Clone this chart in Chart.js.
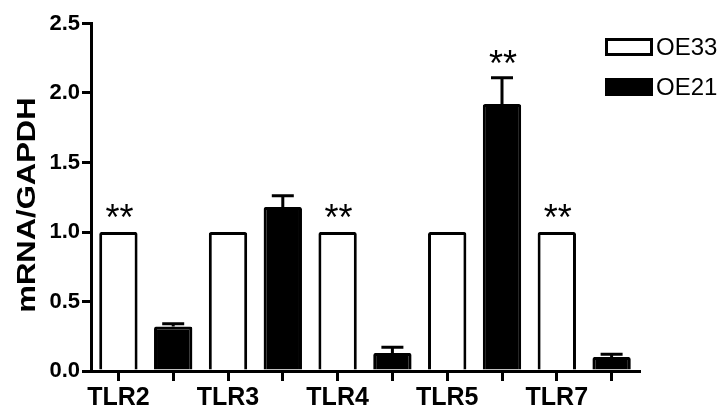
<!DOCTYPE html>
<html>
<head>
<meta charset="utf-8">
<script src="https://cdn.jsdelivr.net/npm/chart.js@4/dist/chart.umd.min.js"></script>
<style>
  html, body { margin: 0; padding: 0; background: #fff; }
  #wrap { width: 727px; height: 409px; }
</style>
</head>
<body>
<div id="wrap"><canvas id="c" width="727" height="409"></canvas></div>
<script>
// Receptor genes and the two cell lines
const genes = ['TLR2', 'TLR3', 'TLR4', 'TLR5', 'TLR7'];
const seriesNames = ['OE33', 'OE21'];

// Relative expression (mRNA / GAPDH), OE33 normalised to 1
const oe33Mean = [1, 1, 1, 1, 1];
const oe33Err  = [0, 0, 0, 0, 0];
const oe21Mean = [0.32, 1.18, 0.13, 1.92, 0.10];
const oe21Err  = [0.02, 0.08, 0.04, 0.19, 0.02];

// Significance marks drawn above each bar
const oe33Marks = ['**', '', '**', '', '**'];
const oe21Marks = ['', '', '', '**', ''];

const yTicks = [0, 0.5, 1.0, 1.5, 2.0, 2.5];
const yTitle = 'mRNA/GAPDH';

const FONT = "'Liberation Sans', Arial, Helvetica, sans-serif";

// One slot per bar: the gene name sits under the OE33 bar, the OE21 slot is unlabeled
const slotLabels = genes.flatMap(g => [g, '']);
const toSlots = (arr, first) => arr.flatMap(v => first ? [v, null] : [null, v]);

const barStyle = {
  borderColor: '#000000',
  borderWidth: 3,
  borderRadius: 2,
  borderSkipped: 'start',
  grouped: false,
  barPercentage: 0.7,
  categoryPercentage: 1
};

const data = {
  labels: slotLabels,
  datasets: [
    Object.assign({
      label: seriesNames[0],
      data: toSlots(oe33Mean, true),
      errors: toSlots(oe33Err, true),
      marks: toSlots(oe33Marks, true),
      backgroundColor: '#ffffff'
    }, barStyle),
    Object.assign({
      label: seriesNames[1],
      data: toSlots(oe21Mean, false),
      errors: toSlots(oe21Err, false),
      marks: toSlots(oe21Marks, false),
      backgroundColor: '#000000'
    }, barStyle)
  ]
};

// Upper error whiskers with a short cap
const errorBars = {
  id: 'errorBars',
  afterDatasetsDraw(chart) {
    const { ctx, scales: { y } } = chart;
    chart.data.datasets.forEach((ds, di) => {
      const meta = chart.getDatasetMeta(di);
      meta.data.forEach((bar, i) => {
        const v = ds.data[i], e = ds.errors[i];
        if (v == null || !e) return;
        const top = y.getPixelForValue(v + e);
        ctx.save();
        ctx.strokeStyle = '#000';
        ctx.lineWidth = 3;
        ctx.beginPath();
        ctx.moveTo(bar.x, bar.y);
        ctx.lineTo(bar.x, top);
        ctx.moveTo(bar.x - 11, top);
        ctx.lineTo(bar.x + 11, top);
        ctx.stroke();
        ctx.restore();
      });
    });
  }
};

// "**" significance marks above bars
const sigMarks = {
  id: 'sigMarks',
  afterDatasetsDraw(chart) {
    const { ctx, scales: { y } } = chart;
    ctx.save();
    ctx.fillStyle = '#000';
    ctx.font = '36px ' + FONT;
    ctx.textAlign = 'center';
    ctx.textBaseline = 'alphabetic';
    chart.data.datasets.forEach((ds, di) => {
      const meta = chart.getDatasetMeta(di);
      meta.data.forEach((bar, i) => {
        const m = ds.marks[i];
        if (!m) return;
        const top = y.getPixelForValue(ds.data[i] + (ds.errors[i] || 0));
        const tm = ctx.measureText(m);
        const center = top - 21;
        const base = center + (tm.actualBoundingBoxAscent - tm.actualBoundingBoxDescent) / 2;
        ctx.fillText(m, bar.x + 1, base);
      });
    });
    ctx.restore();
  }
};

// Vertical axis title, set in a wide bold face
const yTitlePlugin = {
  id: 'yTitlePlugin',
  afterDraw(chart) {
    const { ctx } = chart;
    ctx.save();
    ctx.translate(28, 205);
    ctx.rotate(-Math.PI / 2);
    ctx.scale(1.24, 1);
    ctx.fillStyle = '#000';
    ctx.font = 'bold 25px ' + FONT;
    ctx.textAlign = 'center';
    ctx.textBaseline = 'middle';
    ctx.fillText(yTitle, 0, 0);
    ctx.restore();
  }
};

// Legend in the upper right corner
const boxLegend = {
  id: 'boxLegend',
  afterDraw(chart) {
    const { ctx, chartArea } = chart;
    const x0 = chartArea.right - 34;
    const rows = [38, 78];
    ctx.save();
    chart.data.datasets.forEach((ds, di) => {
      const yTop = rows[di];
      const w = 48, h = 18;
      ctx.fillStyle = ds.backgroundColor;
      ctx.fillRect(x0, yTop, w, h);
      ctx.strokeStyle = ds.borderColor;
      ctx.lineWidth = 3;
      ctx.strokeRect(x0 + 1.5, yTop + 1.5, w - 3, h - 3);
      ctx.fillStyle = '#000';
      ctx.font = '24px ' + FONT;
      ctx.textAlign = 'left';
      ctx.textBaseline = 'middle';
      ctx.fillText(ds.label, x0 + w + 3, yTop + h / 2 + 1);
    });
    ctx.restore();
  }
};

new Chart(document.getElementById('c'), {
  type: 'bar',
  data,
  plugins: [errorBars, sigMarks, yTitlePlugin, boxLegend],
  options: {
    responsive: false,
    animation: false,
    devicePixelRatio: 1,
    layout: { padding: { left: 0, right: 88, top: 23.5, bottom: 0 } },
    plugins: {
      legend: { display: false },
      tooltip: { enabled: false },
      title: { display: false }
    },
    scales: {
      x: {
        type: 'category',
        offset: true,
        afterFit(s) { s.height = 38; },
        grid: {
          display: true,
          offset: false,
          drawOnChartArea: false,
          drawTicks: true,
          tickLength: 10,
          tickWidth: 3,
          lineWidth: 3,
          color: '#000',
          tickColor: '#000'
        },
        border: { display: true, color: '#000', width: 3, z: 1 },
        ticks: {
          autoSkip: false,
          maxRotation: 0,
          minRotation: 0,
          padding: 2,
          color: '#000',
          font: { family: FONT, size: 25, weight: 'bold' }
        }
      },
      y: {
        min: 0,
        max: 2.5,
        afterFit(s) { s.width = 91; },
        afterBuildTicks(s) { s.ticks = yTicks.map(v => ({ value: v })); },
        grid: {
          display: true,
          drawOnChartArea: false,
          drawTicks: true,
          tickLength: 9,
          tickWidth: 3,
          lineWidth: 3,
          color: '#000',
          tickColor: '#000'
        },
        border: { display: true, color: '#000', width: 3, z: 1 },
        ticks: {
          padding: 2,
          color: '#000',
          font: { family: FONT, size: 22, weight: 'bold' },
          callback: v => Number(v).toFixed(1)
        }
      }
    }
  }
});
</script>
</body>
</html>
